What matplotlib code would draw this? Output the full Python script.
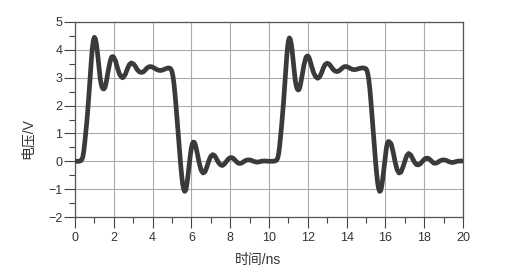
import matplotlib
matplotlib.use("Agg")
import matplotlib.pyplot as plt
from matplotlib.ticker import MultipleLocator

plt.rcParams['font.family'] = ['Liberation Sans', 'Noto Sans CJK SC', 'DejaVu Sans']

# ---- data ----
time_ns = [
    0.0, 0.2, 0.3, 0.35, 0.4, 0.45, 0.5, 0.55, 0.6, 0.65, 0.7, 0.75, 0.8, 0.85, 0.9, 0.95,
    1.0, 1.05, 1.1, 1.15, 1.2, 1.25, 1.3, 1.35, 1.4, 1.45, 1.5, 1.55, 1.6, 1.7, 1.8, 1.85,
    1.9, 1.95, 2.0, 2.1, 2.2, 2.3, 2.4, 2.45, 2.5, 2.6, 2.7, 2.8, 2.9, 3.0, 3.1, 3.2, 3.3,
    3.4, 3.5, 3.6, 3.7, 3.8, 3.9, 4.0, 4.1, 4.2, 4.3, 4.4, 4.5, 4.6, 4.7, 4.8, 4.9, 4.95,
    5.0, 5.05, 5.1, 5.15, 5.2, 5.25, 5.3, 5.35, 5.4, 5.45, 5.5, 5.55, 5.6, 5.65, 5.7, 5.75,
    5.8, 5.85, 5.9, 5.95, 6.0, 6.05, 6.1, 6.15, 6.2, 6.3, 6.4, 6.5, 6.6, 6.7, 6.8, 6.9, 7.0,
    7.1, 7.2, 7.3, 7.4, 7.5, 7.6, 7.7, 7.8, 7.9, 8.0, 8.1, 8.2, 8.3, 8.4, 8.5, 8.6, 8.7,
    8.8, 8.9, 9.0, 9.1, 9.2, 9.3, 9.4, 9.5, 9.6, 9.7, 9.8, 10.0, 10.2, 10.3,
    10.35, 10.4, 10.45, 10.5, 10.55, 10.6, 10.65, 10.7, 10.75, 10.8, 10.85, 10.9, 10.95,
    11.0, 11.05, 11.1, 11.15, 11.2, 11.25, 11.3, 11.35, 11.4, 11.45, 11.5, 11.55, 11.6,
    11.7, 11.8, 11.9, 11.95, 12.0, 12.05, 12.1, 12.2, 12.3, 12.4, 12.5, 12.6, 12.7, 12.8,
    12.9, 13.0, 13.1, 13.2, 13.3, 13.4, 13.5, 13.6, 13.7, 13.8, 13.9, 14.0, 14.1, 14.2,
    14.3, 14.4, 14.5, 14.6, 14.7, 14.8, 14.9, 15.0, 15.05, 15.1, 15.15, 15.2, 15.25, 15.3,
    15.35, 15.4, 15.45, 15.5, 15.55, 15.6, 15.65, 15.7, 15.75, 15.8, 15.85, 15.9, 15.95,
    16.0, 16.05, 16.1, 16.15, 16.2, 16.3, 16.4, 16.5, 16.6, 16.7, 16.8, 16.9, 17.0, 17.1,
    17.2, 17.3, 17.4, 17.5, 17.6, 17.7, 17.8, 17.9, 18.0, 18.1, 18.2, 18.3, 18.4, 18.5,
    18.6, 18.7, 18.8, 18.9, 19.0, 19.1, 19.2, 19.3, 19.4, 19.5, 19.6, 19.7, 19.8, 20.0,
]
voltage_v = [
    0.00, 0.00, 0.02, 0.06, 0.15, 0.35, 0.65, 1.00, 1.35, 1.75, 2.20, 2.70, 3.20, 3.70, 4.10, 4.35,
    4.45, 4.40, 4.22, 3.95, 3.62, 3.27, 2.97, 2.77, 2.65, 2.60, 2.60, 2.66, 2.80, 3.20, 3.55, 3.68,
    3.75, 3.76, 3.73, 3.58, 3.32, 3.12, 3.02, 3.00, 3.02, 3.13, 3.32, 3.47, 3.53, 3.50, 3.42, 3.30, 3.22,
    3.19, 3.20, 3.26, 3.34, 3.39, 3.40, 3.38, 3.34, 3.30, 3.27, 3.26, 3.27, 3.30, 3.33, 3.35, 3.34, 3.30,
    3.22, 3.05, 2.80, 2.45, 2.05, 1.60, 1.15, 0.70, 0.25, -0.15, -0.52, -0.82, -1.00, -1.08, -1.05, -0.90,
    -0.65, -0.35, -0.05, 0.25, 0.48, 0.63, 0.69, 0.68, 0.60, 0.30, -0.05, -0.32, -0.42, -0.38, -0.20, 0.02, 0.18,
    0.24, 0.20, 0.08, -0.05, -0.13, -0.15, -0.10, -0.01, 0.08, 0.13, 0.13, 0.08, 0.00, -0.06, -0.08, -0.06, -0.01,
    0.03, 0.05, 0.05, 0.03, 0.00, -0.02, -0.03, -0.02, 0.00, 0.01, 0.01, 0.00, 0.00, 0.01,
    0.02, 0.05, 0.12, 0.28, 0.55, 0.90, 1.28, 1.68, 2.12, 2.62, 3.12, 3.62, 4.05,
    4.32, 4.43, 4.38, 4.20, 3.92, 3.58, 3.22, 2.92, 2.72, 2.60, 2.56, 2.58, 2.68,
    3.05, 3.45, 3.72, 3.77, 3.78, 3.74, 3.65, 3.40, 3.18, 3.04, 2.98, 3.02, 3.16, 3.35,
    3.48, 3.52, 3.49, 3.40, 3.30, 3.24, 3.22, 3.24, 3.30, 3.36, 3.40, 3.40, 3.37, 3.33,
    3.30, 3.29, 3.30, 3.32, 3.34, 3.35, 3.35, 3.32, 3.26, 3.12, 2.90, 2.58, 2.18, 1.73,
    1.27, 0.80, 0.35, -0.07, -0.45, -0.77, -0.98, -1.08, -1.06, -0.93, -0.70, -0.40, -0.08,
    0.22, 0.47, 0.64, 0.71, 0.70, 0.62, 0.33, -0.02, -0.30, -0.42, -0.39, -0.22, 0.00, 0.20,
    0.28, 0.23, 0.10, -0.03, -0.12, -0.13, -0.09, -0.01, 0.07, 0.11, 0.11, 0.06, -0.01, -0.07,
    -0.07, -0.04, 0.01, 0.04, 0.05, 0.04, 0.01, -0.02, -0.04, -0.04, -0.02, 0.00, 0.01, 0.01,
]

x_ticks = [0, 2, 4, 6, 8, 10, 12, 14, 16, 18, 20]
y_ticks = [-2, -1, 0, 1, 2, 3, 4, 5]
x_label = "时间/ns"
y_label = "电压/V"

# ---- figure ----
fig = plt.figure(figsize=(5.05, 2.75), dpi=100)
ax = fig.add_axes([75 / 505, 1 - 217 / 275, (463 - 75) / 505, (217 - 22) / 275])

ax.plot(time_ns, voltage_v, color="#3a3a3a", lw=3.4, solid_joinstyle="round",
        solid_capstyle="round", zorder=3)

ax.set_xlim(0, 20)
ax.set_ylim(-2, 5)
ax.set_xticks(x_ticks)
ax.set_yticks(y_ticks)
ax.xaxis.set_minor_locator(MultipleLocator(1))
ax.yaxis.set_minor_locator(MultipleLocator(0.5))

ax.grid(True, which="major", color="#ababab", lw=0.8, zorder=0)
ax.tick_params(which="major", direction="out", length=8.0, width=0.8, color="#444444",
               labelsize=9, labelcolor="#333333", pad=1.0)
ax.tick_params(axis="x", which="major", pad=2.5)
ax.tick_params(which="minor", direction="out", length=4.0, width=0.8, color="#444444")

for s in ax.spines.values():
    s.set_color("#555555")
    s.set_linewidth(0.9)

ax.set_xlabel(x_label, fontsize=10, color="#333333")
ax.set_ylabel(y_label, fontsize=10, color="#333333")
ax.xaxis.set_label_coords((257.5 - 75) / 388, -(260 - 217) / 195)
ax.yaxis.set_label_coords((28 - 75) / 388, (217 - 138.5) / 195)
ax.xaxis.label.set_verticalalignment("center")
ax.yaxis.label.set_verticalalignment("center")

fig.savefig("out.png", dpi=100, facecolor="white")
